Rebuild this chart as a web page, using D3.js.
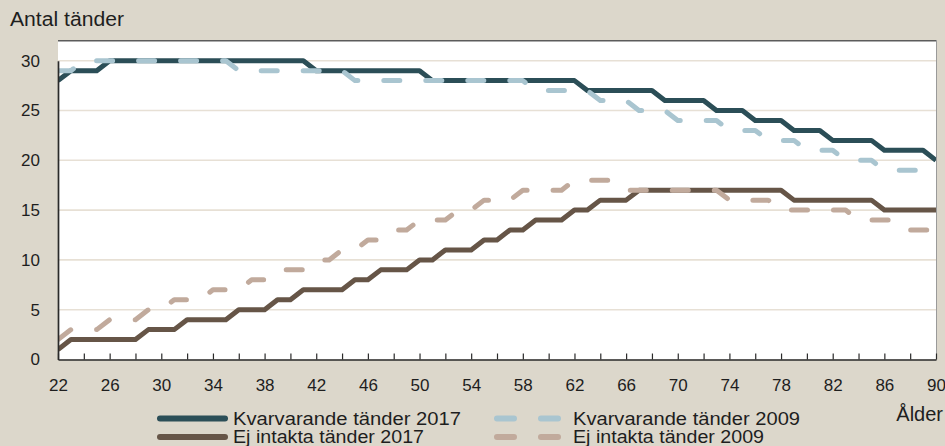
<!DOCTYPE html>
<html>
<head>
<meta charset="utf-8">
<script src="https://cdn.jsdelivr.net/npm/d3@7"></script>
<style>
  html, body { margin: 0; padding: 0; background: #dcd7cb; }
  svg { display: block; }
  text { font-family: "Liberation Sans", Arial, sans-serif; fill: #1e1e1e; }
</style>
</head>
<body>
<svg id="chart" width="945" height="446"></svg>
<script>
// ---- Data ----
const ages = [22,23,24,25,26,27,28,29,30,31,32,33,34,35,36,37,38,39,40,41,42,43,44,45,46,47,48,49,50,51,52,53,54,55,56,57,58,59,60,61,62,63,64,65,66,67,68,69,70,71,72,73,74,75,76,77,78,79,80,81,82,83,84,85,86,87,88,89,90];

const kvarvarande2017 = [28,29,29,29,30,30,30,30,30,30,30,30,30,30,30,30,30,30,30,30,29,29,29,29,29,29,29,29,29,28,28,28,28,28,28,28,28,28,28,28,28,27,27,27,27,27,27,26,26,26,26,25,25,25,24,24,24,23,23,23,22,22,22,22,21,21,21,21,20];
const kvarvarande2009 = [29,29,30,30,30,30,30,30,30,30,30,30,30,30,29,29,29,29,29,29,29,29,29,28,28,28,28,28,28,28,28,28,28,28,28,28,28,27,27,27,27,27,26,26,26,25,25,25,24,24,24,24,23,23,23,22,22,22,21,21,21,20,20,20,19,19,19,19,19];
const ejIntakta2017 = [1,2,2,2,2,2,2,3,3,3,4,4,4,4,5,5,5,6,6,7,7,7,7,8,8,9,9,9,10,10,11,11,11,12,12,13,13,14,14,14,15,15,16,16,16,17,17,17,17,17,17,17,17,17,17,17,17,16,16,16,16,16,16,16,15,15,15,15,15];
const ejIntakta2009 = [2,3,3,3,4,4,4,5,5,6,6,6,7,7,7,8,8,9,9,9,10,10,11,11,12,12,13,13,14,14,14,15,15,16,16,16,17,17,17,17,18,18,18,18,17,17,17,17,17,17,17,17,16,16,16,16,15,15,15,15,15,15,14,14,14,14,13,13,13];

const yTicks = [0,5,10,15,20,25,30];
const xMinorTicks = [22,24,26,28,30,32,34,36,38,40,42,44,46,48,50,52,54,56,58,60,62,64,66,68,70,72,74,76,78,80,82,84,86,88,90];
const xLabelTicks = [22,26,30,34,38,42,46,50,54,58,62,66,70,74,78,82,86,90];

const seriesNames = ["Kvarvarande tänder 2017","Ej intakta tänder 2017","Kvarvarande tänder 2009","Ej intakta tänder 2009"];
const yTitle = "Antal tänder";
const xTitle = "Ålder";

// ---- Styles ----
const colors = {
  kv17: "#2b4e57",
  ej17: "#665547",
  kv09: "#a9c5d0",
  ej09: "#c1aa9c"
};

const svg = d3.select("#chart");
const W = 945, H = 446;
const plot = { left: 58, right: 936, top: 40, bottom: 359.5 };

svg.append("rect").attr("width", W).attr("height", H).attr("fill", "#dcd7cb");

const x = d3.scaleLinear().domain([22, 90]).range([plot.left, plot.right]);
const y = d3.scaleLinear().domain([0, 30]).range([plot.bottom, 60.7]);

// plot background
svg.append("rect")
  .attr("x", plot.left).attr("y", plot.top)
  .attr("width", plot.right - plot.left).attr("height", plot.bottom - plot.top)
  .attr("fill", "#ffffff");

// gridlines
svg.append("g").selectAll("line")
  .data(yTicks.filter(d => d > 0))
  .join("line")
  .attr("x1", plot.left).attr("x2", plot.right)
  .attr("y1", d => y(d)).attr("y2", d => y(d))
  .attr("stroke", "#e7e0d5").attr("stroke-width", 1.6);

// borders
svg.append("line").attr("x1", plot.left).attr("x2", plot.right + 1)
  .attr("y1", plot.top + 0.75).attr("y2", plot.top + 0.75)
  .attr("stroke", "#5c5c5c").attr("stroke-width", 1.5);
svg.append("line").attr("x1", plot.right + 0.5).attr("x2", plot.right + 0.5)
  .attr("y1", plot.top).attr("y2", plot.bottom)
  .attr("stroke", "#9a9a9a").attr("stroke-width", 1);

// clip
svg.append("clipPath").attr("id", "clip").append("rect")
  .attr("x", plot.left).attr("y", plot.top)
  .attr("width", plot.right - plot.left).attr("height", plot.bottom - plot.top);

const line = d3.line().x((d, i) => x(ages[i])).y(d => y(d));
const lines = svg.append("g").attr("clip-path", "url(#clip)");

function drawSeries(values, color, dashed) {
  const p = lines.append("path")
    .datum(values)
    .attr("d", line)
    .attr("fill", "none")
    .attr("stroke", color)
    .attr("stroke-width", 5)
    .attr("stroke-linejoin", "round");
  if (dashed) {
    p.attr("stroke-dasharray", "16,26").attr("stroke-linecap", "round");
  } else {
    p.attr("stroke-linecap", "butt");
  }
}
drawSeries(kvarvarande2017, colors.kv17, false);
drawSeries(ejIntakta2017, colors.ej17, false);
drawSeries(kvarvarande2009, colors.kv09, true);
drawSeries(ejIntakta2009, colors.ej09, true);

// y axis
const yAxis = d3.axisLeft(y).tickValues(yTicks).tickSize(0).tickPadding(18);
const gy = svg.append("g").attr("transform", `translate(${plot.left},0)`).call(yAxis);
gy.select(".domain").attr("stroke", "#2a2a2a").attr("stroke-width", 1.7);
gy.selectAll("text").style("font-size", "17px").style("font-family", "Liberation Sans, Arial, sans-serif").attr("fill", "#1e1e1e");

// x axis
const xAxis = d3.axisBottom(x).tickValues(xMinorTicks).tickSizeInner(-6).tickSizeOuter(0).tickPadding(19)
  .tickFormat(d => xLabelTicks.includes(d) ? String(d) : "");
const gx = svg.append("g").attr("transform", `translate(0,${plot.bottom})`).call(xAxis);
gx.select(".domain").attr("stroke", "#2a2a2a").attr("stroke-width", 1.7);
gx.selectAll(".tick line").attr("stroke", "#2a2a2a").attr("stroke-width", 1.2);
gx.selectAll("text").style("font-size", "17px").style("font-family", "Liberation Sans, Arial, sans-serif").attr("fill", "#1e1e1e");

// titles
svg.append("text").attr("x", 10).attr("y", 26).style("font-size", "20px")
  .attr("textLength", 114).attr("lengthAdjust", "spacingAndGlyphs").text(yTitle);
svg.append("text").attr("x", 943).attr("y", 421).attr("text-anchor", "end").style("font-size", "20px").text(xTitle);

// legend
const legendItems = [
  { name: seriesNames[0], color: colors.kv17, dashed: false, lx: 160, tx: 233, yy: 418.5, w: 228 },
  { name: seriesNames[1], color: colors.ej17, dashed: false, lx: 160, tx: 233, yy: 437, w: 191 },
  { name: seriesNames[2], color: colors.kv09, dashed: true, lx: 497, tx: 573, yy: 418.5, w: 227 },
  { name: seriesNames[3], color: colors.ej09, dashed: true, lx: 497, tx: 573, yy: 437, w: 191 }
];
const lg = svg.append("g");
legendItems.forEach(it => {
  const l = lg.append("line")
    .attr("x1", it.lx).attr("x2", it.dashed ? it.lx + 61 : it.lx + 65)
    .attr("y1", it.yy).attr("y2", it.yy)
    .attr("stroke", it.color).attr("stroke-width", 6)
    .attr("stroke-linecap", "round");
  if (it.dashed) l.attr("stroke-dasharray", "17,27");
  lg.append("text").attr("x", it.tx).attr("y", it.yy + 6)
    .style("font-size", "17.5px")
    .attr("textLength", it.w).attr("lengthAdjust", "spacingAndGlyphs")
    .text(it.name);
});
</script>
</body>
</html>
